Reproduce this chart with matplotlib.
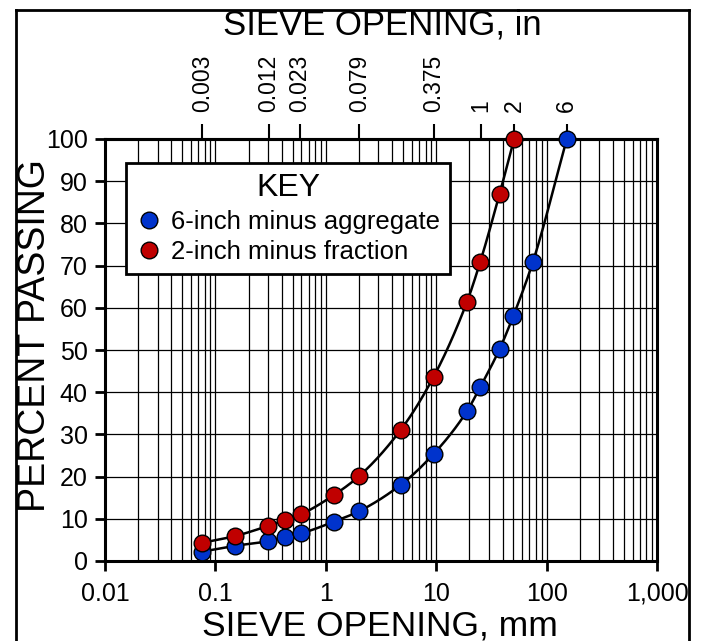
import numpy as np
import matplotlib
matplotlib.use("Agg")
import matplotlib.pyplot as plt
from matplotlib.ticker import LogLocator, FixedLocator, FixedFormatter, NullFormatter
from matplotlib.lines import Line2D

plt.rcParams['font.family'] = ['Liberation Sans', 'DejaVu Sans']

# ---- data ----
sieve_mm_6in = [0.075, 0.15, 0.3, 0.425, 0.6, 1.18, 2.0, 4.75, 9.5, 19.0, 25.0, 37.5, 50.0, 75.0, 152.4]
passing_6in = [2.2, 3.6, 4.7, 5.8, 6.6, 9.3, 11.8, 18.0, 25.4, 35.5, 41.2, 50.2, 58.1, 70.8, 100.0]
sieve_mm_2in = [0.075, 0.15, 0.3, 0.425, 0.6, 1.18, 2.0, 4.75, 9.5, 19.0, 25.0, 37.5, 50.8]
passing_2in = [4.3, 5.9, 8.3, 9.6, 11.1, 15.6, 20.1, 31.0, 43.7, 61.4, 70.8, 87.0, 100.0]
series_names = ["6-inch minus aggregate", "2-inch minus fraction"]
series_colors = ["#0033CC", "#C00000"]
top_ticks_in = [0.003, 0.012, 0.023, 0.079, 0.375, 1, 2, 6]
top_tick_labels = ["0.003", "0.012", "0.023", "0.079", "0.375", "1", "2", "6"]
bottom_ticks = [0.01, 0.1, 1, 10, 100, 1000]
bottom_tick_labels = ["0.01", "0.1", "1", "10", "100", "1,000"]
y_ticks = list(range(0, 101, 10))


def pchip(x, y, xn):
    x = np.asarray(x, float); y = np.asarray(y, float)
    h = np.diff(x); d = np.diff(y) / h
    n = len(x); m = np.zeros(n)
    for k in range(1, n - 1):
        if d[k - 1] * d[k] > 0:
            w1 = 2 * h[k] + h[k - 1]; w2 = h[k] + 2 * h[k - 1]
            m[k] = (w1 + w2) / (w1 / d[k - 1] + w2 / d[k])
    m[0] = d[0]; m[-1] = d[-1]
    idx = np.clip(np.searchsorted(x, xn) - 1, 0, n - 2)
    t = (xn - x[idx]) / h[idx]
    h00 = 2 * t**3 - 3 * t**2 + 1; h10 = t**3 - 2 * t**2 + t
    h01 = -2 * t**3 + 3 * t**2; h11 = t**3 - t**2
    return h00 * y[idx] + h10 * h[idx] * m[idx] + h01 * y[idx + 1] + h11 * h[idx] * m[idx + 1]


W, H = 703, 641
fig = plt.figure(figsize=(W / 100, H / 100), dpi=100)
ax = fig.add_axes([105 / W, 1 - 561 / H, (657 - 105) / W, (561 - 139) / H])

ax.set_xscale('log')
ax.set_xlim(0.01, 1000)
ax.set_ylim(0, 100)

for xs, ys, name, col in [(sieve_mm_6in, passing_6in, series_names[0], series_colors[0]),
                          (sieve_mm_2in, passing_2in, series_names[1], series_colors[1])]:
    lx = np.log10(xs)
    xn = np.linspace(lx[0], lx[-1], 400)
    ax.plot(10**xn, pchip(lx, ys, xn), color='black', lw=1.8, zorder=3)
    ax.plot(xs, ys, 'o', ms=12, mfc=col, mec='black', mew=1.0, zorder=4,
            linestyle='none', label=name, clip_on=False)

ax.xaxis.set_major_locator(FixedLocator(bottom_ticks))
ax.xaxis.set_major_formatter(FixedFormatter(bottom_tick_labels))
ax.xaxis.set_minor_locator(LogLocator(base=10, subs=np.arange(2, 10), numticks=100))
ax.xaxis.set_minor_formatter(NullFormatter())
ax.set_yticks(y_ticks)
ax.tick_params(axis='x', which='major', direction='out', length=7, width=2, labelsize=18, pad=8)
ax.tick_params(axis='x', which='minor', length=0)
ax.tick_params(axis='y', which='major', direction='out', length=7.5, width=2, labelsize=18, pad=5)
ax.grid(which='both', axis='x', color='black', lw=0.9)
ax.grid(which='major', axis='y', color='black', lw=0.9)
for s in ax.spines.values():
    s.set_linewidth(2.2)

sec = ax.secondary_xaxis('top', functions=(lambda v: v / 25.4, lambda v: v * 25.4))
sec.xaxis.set_major_locator(FixedLocator(top_ticks_in))
sec.xaxis.set_major_formatter(FixedFormatter(top_tick_labels))
sec.xaxis.set_minor_locator(FixedLocator([]))
sec.tick_params(axis='x', which='major', direction='out', length=10.5, width=1.5,
                labelsize=16.5, labelrotation=90, pad=9)
sec.spines['top'].set_linewidth(2.2)

leg = ax.legend(loc='upper left', bbox_to_anchor=((126 - 105) / 552, (561 - 163) / 422),
                borderaxespad=0, title="KEY", title_fontsize=23, fontsize=18.5,
                frameon=True, fancybox=False, framealpha=1, edgecolor='black',
                handletextpad=0.35, handlelength=1.0, borderpad=0.4, labelspacing=0.25)
leg.get_frame().set_linewidth(2)

fig.text(380 / W, 1 - 626 / H, "SIEVE OPENING, mm", ha='center', va='center', fontsize=25.5)
fig.text(382 / W, 1 - 25 / H, "SIEVE OPENING, in", ha='center', va='center', fontsize=25)
fig.text(35 / W, 1 - 336 / H, "PERCENT PASSING", ha='center', va='center', rotation=90, fontsize=27)

# figure border
for (x0, y0, x1, y1) in [(16, 10, 689, 10), (16, 10, 16, 645), (689, 10, 689, 645)]:
    fig.add_artist(Line2D([x0 / W, x1 / W], [1 - y0 / H, 1 - y1 / H], color='black', lw=2,
                          transform=fig.transFigure))

fig.savefig("out.png", dpi=100)
